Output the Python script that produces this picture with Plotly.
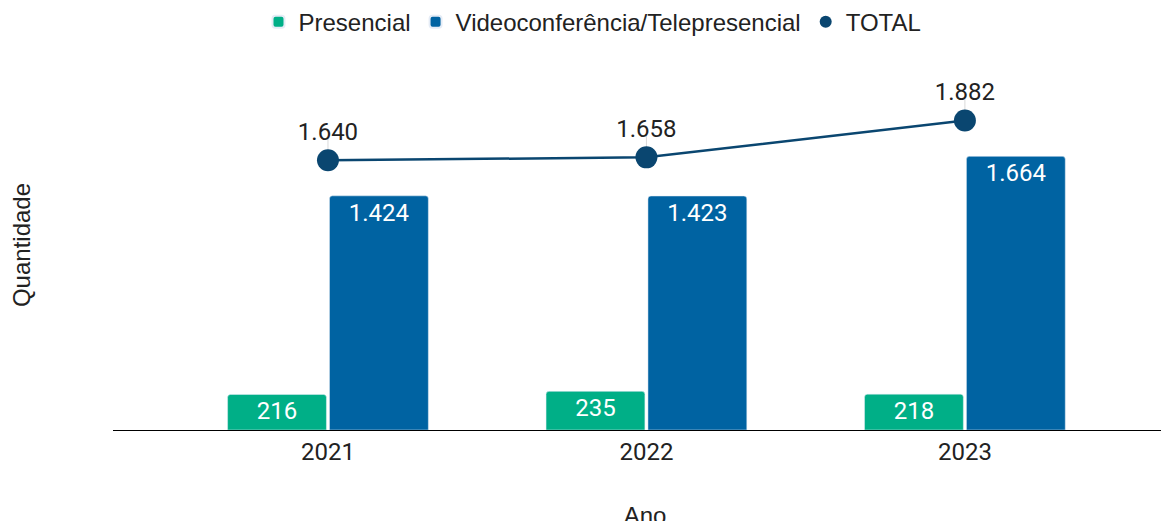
import plotly.graph_objects as go

anos = ["2021", "2022", "2023"]
presencial = [216, 235, 218]
video = [1424, 1423, 1664]
total = [1640, 1658, 1882]

def fmt(v):
    return f"{v:,}".replace(",", ".")

GREEN = "#00AF87"
BLUE = "#0063A2"
NAVY = "#0A4670"

fig = go.Figure()
fig.add_trace(go.Bar(
    x=anos, y=presencial, name="Presencial", marker_color=GREEN,
    text=[fmt(v) for v in presencial], textposition="inside", insidetextanchor="end",
    textfont=dict(family="Roboto", size=24, color="white"), cliponaxis=False,
))
fig.add_trace(go.Bar(
    x=anos, y=video, name="Videoconferência/Telepresencial", marker_color=BLUE,
    text=[fmt(v) for v in video], textposition="inside", insidetextanchor="end",
    textfont=dict(family="Roboto", size=24, color="white"), cliponaxis=False,
))
fig.add_trace(go.Scatter(
    x=anos, y=total, name="TOTAL", mode="lines+markers+text",
    line=dict(color=NAVY, width=2.5), marker=dict(color=NAVY, size=22),
    text=[fmt(v) for v in total], textposition="top center",
    textfont=dict(family="Roboto", size=24, color="#222222"),
    error_y=dict(type="data", symmetric=False, array=[130] * len(total),
                 arrayminus=[0] * len(total), color="#d9d9d9", thickness=1, width=0),
    showlegend=False, cliponaxis=False,
))
fig.add_trace(go.Scatter(
    x=[None], y=[None], name="TOTAL", mode="markers",
    marker=dict(color=NAVY, size=16, symbol="circle"),
))

fig.update_layout(
    width=1169, height=521,
    margin=dict(l=105, r=0, t=52, b=99),
    plot_bgcolor="white", paper_bgcolor="white",
    barmode="group", bargap=0.36, bargroupgap=0.03, barcornerradius=3,
    legend=dict(orientation="h", x=0.5, xanchor="center", y=0.973, yanchor="middle",
                yref="container", xref="container",
                font=dict(family="Liberation Sans", size=24, color="#222"),
                traceorder="normal", itemsizing="constant"),
    font=dict(family="Liberation Sans", color="#222"),
)
fig.update_xaxes(
    type="category", range=[-0.675, 2.666], showline=True, linecolor="black", linewidth=1,
    ticks="", tickfont=dict(family="Roboto", size=24, color="#222"),
    title=dict(text="Ano", font=dict(family="Liberation Sans", size=24, color="#222"), standoff=42),
    showgrid=False, automargin=False,
)
fig.update_yaxes(
    range=[0, 2250], showticklabels=False, showgrid=False, zeroline=False,
    title=dict(text="Quantidade", font=dict(family="Liberation Sans", size=24, color="#222"), standoff=77),
    automargin=False,
)
fig.write_html("out.html", post_script="document.body.style.overflow='hidden';")
